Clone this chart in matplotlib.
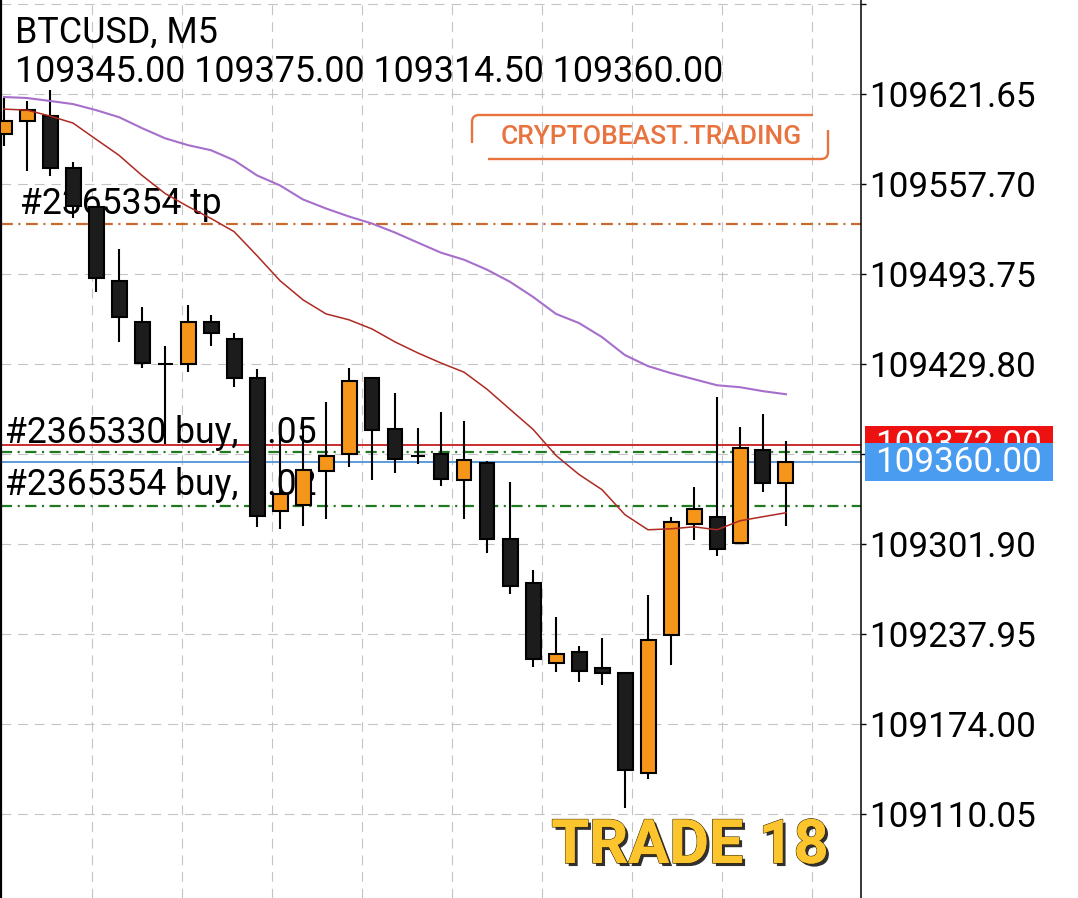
import numpy as np
import matplotlib
matplotlib.use("Agg")
import matplotlib.pyplot as plt
from matplotlib.patches import Rectangle, PathPatch
from matplotlib.path import Path
import matplotlib.patheffects as pe
from matplotlib.transforms import blended_transform_factory, IdentityTransform

plt.rcParams['font.family'] = ['Roboto', 'DejaVu Sans']
plt.rcParams['lines.scale_dashes'] = False

# ---------------- data ----------------
symbol = "BTCUSD, M5"
opens = [109593.1, 109602.2, 109605.7, 109569.4, 109541.5, 109488.7, 109459.5, 109430.0, 109429.5,
         109459.5, 109447.6, 109420.2, 109325.6, 109329.3, 109354.1, 109365.5, 109420.2, 109383.8,
         109364.5, 109366.0, 109347.7, 109359.6, 109305.3, 109274.5, 109217.3, 109225.2, 109214.0,
         109210.2, 109139.5, 109237.1, 109316.3, 109321.0, 109302.5, 109368.6, 109345.0]
highs = [109618.8, 109616.4, 109624.3, 109573.6, 109542.0, 109511.8, 109470.2, 109442.8, 109471.8,
         109464.7, 109451.8, 109426.2, 109378.3, 109388.3, 109402.8, 109427.3, 109420.2, 109409.0,
         109384.5, 109395.7, 109389.0, 109360.7, 109346.0, 109283.4, 109250.1, 109229.2, 109234.9,
         109210.2, 109265.6, 109321.0, 109342.5, 109406.0, 109385.3, 109394.0, 109375.0]
lows = [109584.5, 109567.2, 109563.6, 109533.2, 109480.9, 109445.2, 109426.6, 109372.6, 109424.2,
        109442.8, 109413.1, 109314.3, 109312.5, 109315.0, 109319.6, 109356.7, 109347.2, 109352.4,
        109358.9, 109342.9, 109319.6, 109295.8, 109266.1, 109214.4, 109210.9, 109203.7, 109201.4,
        109114.5, 109135.2, 109215.7, 109304.8, 109293.6, 109302.5, 109338.6, 109314.5]
closes = [109602.6, 109610.0, 109569.4, 109542.0, 109490.9, 109463.0, 109430.2, 109429.6, 109459.9,
          109451.6, 109420.2, 109321.5, 109337.7, 109354.3, 109364.3, 109417.8, 109382.6, 109362.4,
          109364.3, 109348.4, 109361.9, 109305.3, 109272.0, 109220.4, 109224.0, 109211.4, 109210.4,
          109141.2, 109234.0, 109317.2, 109326.8, 109298.2, 109370.3, 109345.3, 109360.0]
ma_fast = [109610.9, 109610.2, 109606.0, 109601.0, 109589.5, 109578.1, 109563.8, 109551.0, 109541.7,
           109533.2, 109523.9, 109506.8, 109489.0, 109475.4, 109465.4, 109461.2, 109454.7, 109445.5,
           109437.6, 109430.5, 109424.0, 109411.9, 109397.6, 109383.4, 109364.8, 109351.3, 109340.5,
           109322.7, 109312.0, 109312.7, 109314.1, 109312.0, 109318.4, 109321.3, 109324.1]
ma_slow = [109619.5, 109618.8, 109616.7, 109614.5, 109610.2, 109605.2, 109597.4, 109590.2, 109585.3,
           109581.7, 109574.6, 109563.8, 109556.7, 109546.7, 109540.3, 109534.6, 109529.6, 109523.2,
           109516.0, 109508.9, 109503.9, 109496.8, 109488.2, 109477.5, 109465.4, 109458.9, 109448.9,
           109436.1, 109428.3, 109423.3, 109419.0, 109414.7, 109413.3, 109410.5, 109408.3]

tp_label = "#2365354 tp"
tp_price = 109529.6
buy1_label = "#2365330 buy, 0.05"
buy1_price = 109367.4
buy2_label = "#2365354 buy, 0.02"
buy2_price = 109329.1
bid_price = 109372.00
last_price = 109360.00

ytick_values = [109685.60, 109621.65, 109557.70, 109493.75, 109429.80, 109365.85,
                109301.90, 109237.95, 109174.00, 109110.05]
ytick_labels = ['', '109621.65', '109557.70', '109493.75', '109429.80', '',
                '109301.90', '109237.95', '109174.00', '109110.05']

watermark = "CRYPTOBEAST.TRADING"
trade_title = "TRADE 18"

# ---------------- colours ----------------
BULL = '#f5961b'
BEAR = '#1c1c1c'
MA_FAST_C = '#ad2a22'
MA_SLOW_C = '#a66fcb'
TP_C = '#c96a30'
GREEN_C = '#1f7a1f'
BID_C = '#cc2b2b'
ASK_C = '#5a9bd8'
WM_C = '#e8733f'

W, H = 1078, 898
fig = plt.figure(figsize=(W / 100, H / 100), dpi=100)
fig.patch.set_facecolor('white')
ax = fig.add_axes([1 / W, 0, 860 / W, 1])

px_per_bar = 23.0
xmin = -3 / px_per_bar
xmax = xmin + 860 / px_per_bar
ax.set_xlim(xmin, xmax)
ax.set_ylim(109050.36, 109688.44)

# grid
ax.set_xticks(3.826 + np.arange(9) * 90 / px_per_bar)
ax.set_yticks(ytick_values)
ax.set_yticklabels(ytick_labels)
ax.grid(True, color='#c4c4c4', linestyle=(0, (7, 5)), linewidth=0.8, zorder=0)
ax.set_axisbelow(True)

ax.yaxis.tick_right()
ax.tick_params(axis='y', direction='out', length=3.6, width=1, pad=2.5, labelsize=25.2, colors='black')
ax.tick_params(axis='x', length=0, labelbottom=False)
for s in ['top', 'bottom']:
    ax.spines[s].set_visible(False)
ax.spines['left'].set_linewidth(1.6)
ax.spines['right'].set_linewidth(1.1)

# trade level lines
ax.axhline(tp_price, color=TP_C, lw=1.6, linestyle=(0, (8.5, 4, 1.5, 4)), zorder=1.5)
ax.axhline(buy1_price, color=GREEN_C, lw=1.6, linestyle=(0, (8, 4, 1.5, 4)), zorder=1.5)
ax.axhline(buy2_price, color=GREEN_C, lw=1.6, linestyle=(0, (8, 4, 1.5, 4)), zorder=1.5)
ax.axhline(bid_price, color=BID_C, lw=1.4, zorder=1.6)
ax.axhline(last_price, color=ASK_C, lw=1.4, zorder=1.6)

blend = blended_transform_factory(ax.transAxes, ax.transData)
ax.annotate(tp_label, xy=(19 / 860, tp_price), xycoords=blend, xytext=(0, 10),
            textcoords='offset pixels', fontsize=25.6, va='baseline', ha='left', zorder=2)
ax.annotate(buy1_label, xy=(4 / 860, buy1_price), xycoords=blend, xytext=(0, 9),
            textcoords='offset pixels', fontsize=25.6, va='baseline', ha='left', zorder=2)
ax.annotate(buy2_label, xy=(4 / 860, buy2_price), xycoords=blend, xytext=(0, 11),
            textcoords='offset pixels', fontsize=25.6, va='baseline', ha='left', zorder=2)

# candles
body_w = 15 / px_per_bar
for i, (o, h, l, c) in enumerate(zip(opens, highs, lows, closes)):
    ax.vlines(i, l, h, color='black', lw=1.5, zorder=4)
    bottom = min(o, c)
    height = max(abs(c - o), 0.2)
    ax.add_patch(Rectangle((i - body_w / 2, bottom), body_w, height,
                           facecolor=BULL if c >= o else BEAR, edgecolor='black',
                           lw=1.5, zorder=5))

# moving averages
idx = np.arange(len(ma_fast))
ax.plot(idx, ma_slow, color=MA_SLOW_C, lw=1.5, zorder=6)
ax.plot(idx, ma_fast, color=MA_FAST_C, lw=1.1, zorder=6)

# price tags on the right axis
tag_h = 38 / 1.40735
ax.add_patch(Rectangle((1.0047, bid_price - tag_h / 2), 0.2186, tag_h, transform=blend,
                       facecolor='#ee1111', edgecolor='none', clip_on=False, zorder=10))
ax.text(1.114, bid_price, f"{bid_price:.2f}", transform=blend, color='white', fontsize=25.2,
        ha='center', va='center', clip_on=False, zorder=11)
ax.add_patch(Rectangle((1.0047, last_price - tag_h / 2), 0.2186, tag_h, transform=blend,
                       facecolor='#4a9cf0', edgecolor='none', clip_on=False, zorder=12))
ax.text(1.114, last_price, f"{last_price:.2f}", transform=blend, color='white', fontsize=25.2,
        ha='center', va='center', clip_on=False, zorder=13)

# header text
ax.text(14 / 860, 1 - 43 / H, symbol, transform=ax.transAxes, fontsize=25.8,
        ha='left', va='baseline', zorder=7)
ohlc_text = f"{opens[-1]:.2f} {highs[-1]:.2f} {lows[-1]:.2f} {closes[-1]:.2f}"
ax.text(14 / 860, 1 - 82 / H, ohlc_text, transform=ax.transAxes, fontsize=25.8,
        ha='left', va='baseline', zorder=7)

# watermark box (pixel coordinates, origin bottom-left)
def yy(v):
    return H - v

top_path = Path([(472, yy(143)), (472, yy(122)), (472, yy(115)), (479, yy(115)), (813, yy(115))],
                [Path.MOVETO, Path.LINETO, Path.CURVE3, Path.CURVE3, Path.LINETO])
bot_path = Path([(488, yy(159)), (821, yy(159)), (828, yy(159)), (828, yy(152)), (828, yy(130))],
                [Path.MOVETO, Path.LINETO, Path.CURVE3, Path.CURVE3, Path.LINETO])
for p in (top_path, bot_path):
    fig.add_artist(PathPatch(p, transform=IdentityTransform(), facecolor='none',
                             edgecolor=WM_C, lw=1.7, zorder=8))
fig.text(651 / W, 1 - 137 / H, watermark, color=WM_C, fontsize=19, fontweight='medium',
         ha='center', va='center', zorder=8)

# big title
fig.text(690 / W, 1 - 863 / H, trade_title, color='#fcc52d', fontsize=44, fontweight='bold',
         ha='center', va='baseline', zorder=9,
         path_effects=[pe.SimplePatchShadow(offset=(2.2, -2.2), shadow_rgbFace='#1a1a1a', alpha=0.9),
                       pe.withStroke(linewidth=1.0, foreground='#3a2a00'), pe.Normal()])

fig.savefig("out.png", dpi=100)
